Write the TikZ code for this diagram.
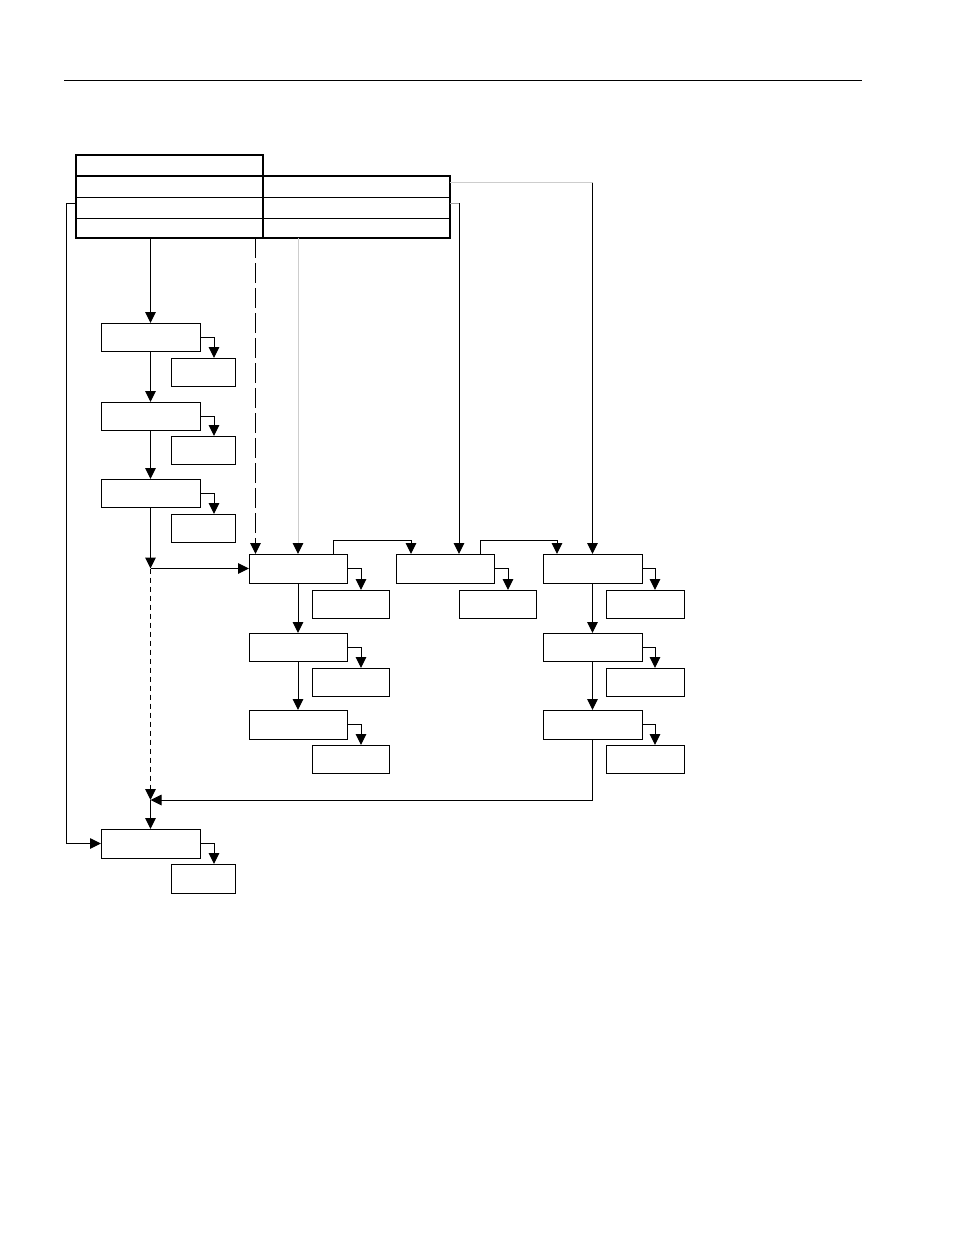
\documentclass[tikz,border=0pt]{standalone}
\usetikzlibrary{arrows.meta,calc}
\definecolor{lgray}{RGB}{205,205,205}
\definecolor{mgray}{RGB}{165,165,165}
\begin{document}
\begin{tikzpicture}[x=1pt,y=-1pt,
  ln/.style={line width=1pt},
  box/.style={draw, line width=1pt, rectangle, anchor=north west, inner sep=0pt, outer sep=0pt, minimum width=99pt, minimum height=28pt},
  sbox/.style={box, minimum width=64pt},
  wbox/.style={box, minimum width=77pt},
  cell/.style={draw, line width=1pt, rectangle, anchor=north west, inner sep=0pt, outer sep=0pt, minimum width=187pt, minimum height=21pt},
  arr/.style={ln, -{Triangle[length=11pt,width=10.5pt,color=black]}},
  thickline/.style={line width=2.2pt}
  ]
\useasboundingbox (0,0) rectangle (954,1235);
% top rule
\coordinate (r0) at (64,80);
\coordinate (r1) at (862,80);
\draw[ln] (r0) -- (r1);
% tables
\node[cell] (L0) at (76,155) {};
\node[cell] (L1) at (76,176) {};
\node[cell] (L2) at (76,197) {};
\node[cell, minimum height=20pt] (L3) at (76,218) {};
\node[cell] (R1) at (263,176) {};
\node[cell] (R2) at (263,197) {};
\node[cell, minimum height=20pt] (R3) at (263,218) {};
\draw[thickline] (L0.north west) rectangle (L3.south east);
\draw[thickline] (R1.north west) rectangle (R3.south east);
\draw[thickline] (L1.north west) -- (L1.north east);
\draw[thickline] (L0.north east) -- (L3.south east);
% left column
\node[box] (B1) at (101,323) {};
\node[sbox] (S1) at (171,358) {};
\node[box] (B2) at (101,402) {};
\node[sbox] (S2) at (171,436) {};
\node[box] (B3) at (101,479) {};
\node[sbox] (S3) at (171,514) {};
% middle row
\node[box, minimum width=98pt, minimum height=29pt] (A1) at (249,554) {};
\node[wbox] (SA1) at (312,590) {};
\node[box, minimum width=98pt, minimum height=29pt] (BB) at (396,554) {};
\node[wbox] (SB) at (459,590) {};
\node[box, minimum height=29pt] (C1) at (543,554) {};
\node[wbox, minimum width=78pt] (SC1) at (606,590) {};
\node[box, minimum width=98pt] (A2) at (249,633) {};
\node[wbox] (SA2) at (312,668) {};
\node[box, minimum width=98pt, minimum height=29pt] (A3) at (249,710) {};
\node[wbox] (SA3) at (312,745) {};
\node[box] (C2) at (543,633) {};
\node[wbox, minimum width=78pt] (SC2) at (606,668) {};
\node[box, minimum height=29pt] (C3) at (543,710) {};
\node[wbox, minimum width=78pt] (SC3) at (606,745) {};
% bottom
\node[box, minimum height=29pt] (E) at (101,829) {};
\node[sbox, minimum height=29pt] (SE) at (171,864) {};

% stubs to small boxes
\draw[arr] (B1.east) -| ($(S1.north west)+(43,0)$);
\draw[arr] (B2.east) -| ($(S2.north west)+(43,0)$);
\draw[arr] (B3.east) -| ($(S3.north west)+(43,0)$);
\draw[arr] (E.east) -| ($(SE.north west)+(43,0)$);
\draw[arr] (A1.east) -| ($(SA1.north west)+(49,0)$);
\draw[arr] (A2.east) -| ($(SA2.north west)+(49,0)$);
\draw[arr] (A3.east) -| ($(SA3.north west)+(49,0)$);
\draw[arr] (BB.east) -| ($(SB.north west)+(49,0)$);
\draw[arr] (C1.east) -| ($(SC1.north west)+(49,0)$);
\draw[arr] (C2.east) -| ($(SC2.north west)+(49,0)$);
\draw[arr] (C3.east) -| ($(SC3.north west)+(49,0)$);

% main verticals
\coordinate (t1) at (150.5,238);
\draw[arr] (t1) -- (B1.north);
\draw[arr] (B1.south) -- (B2.north);
\draw[arr] (B2.south) -- (B3.north);
\coordinate (j1) at (150.5,568.5);
\coordinate (j2) at (150.5,800);
\draw[arr] (B3.south) -- (j1);
\draw[arr] (j1) -- (A1.west);
\draw[arr, dash pattern=on 5pt off 4pt] (j1) -- (j2);
\draw[arr] (j2) -- (E.north);
\draw[arr] (C3.south) |- (j2);
\draw[arr] (A1.south) -- (A2.north);
\draw[arr] (A2.south) -- (A3.north);
\draw[arr] (C1.south) -- (C2.north);
\draw[arr] (C2.south) -- (C3.north);

% left return line
\coordinate (ls) at (76,203);
\draw[arr] (ls) -- (66,203) |- (E.west);

% from tables to middle row
\coordinate (d0) at (255.5,238);
\draw[arr, dash pattern=on 20pt off 5pt] (d0) -- (d0 |- A1.north);
\coordinate (g0) at (298,238);
\draw[arr, draw=lgray] (g0) -- (A1.north);
\coordinate (rs) at (450,203);
\coordinate (rk) at (459,203);
\draw[ln, mgray] (rs) -- (rk);
\draw[arr] (rk) -- (rk |- BB.north);
\coordinate (hs) at (450,182.5);
\coordinate (hk) at (592.5,182.5);
\draw[ln, lgray] (hs) -- (hk);
\draw[arr] (hk) -- (C1.north);

% row links
\draw[arr] ($(A1.north west)+(84,0)$) -- ++(0,-14) -| ($(BB.north west)+(15,0)$);
\draw[arr] ($(BB.north west)+(84,0)$) -- ++(0,-14) -| ($(C1.north west)+(14,0)$);
\end{tikzpicture}
\end{document}
